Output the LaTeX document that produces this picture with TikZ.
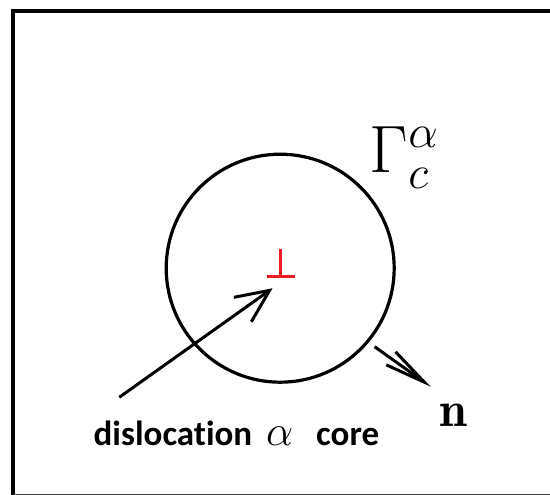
\RequirePackage{fix-cm}
\documentclass[tikz,border=0pt]{standalone}
\usepackage{fontspec}
\newfontfamily\lblfont[Ligatures={NoCommon,NoDiscretionary}]{Carlito}
\usetikzlibrary{arrows.meta}
\definecolor{dislred}{RGB}{237,28,36}
\begin{document}
\begin{tikzpicture}[x=1pt, y=-1pt,
  heavy/.style={line width=3pt},
  textlabel/.style={anchor=base west, inner sep=0pt}]
\useasboundingbox (0,0) rectangle (550,495);
\draw[line width=3.5pt] (551,10.8) -- (12.8,10.8) -- (12.8,495);
\draw[line width=1.2pt, black!75] (12.8,494.4) -- (551,494.4);

\node[draw, circle, line width=3.2pt, minimum size=228pt, inner sep=0pt] (loop) at (280.2,268.2) {};
\coordinate (core) at (280.7,276);
\draw[dislred, heavy] (core) ++(-14,0) -- ++(28,0) (core) -- ++(0,-27);

\node[textlabel, font=\fontsize{67}{67}\selectfont] (gammaLabel) at (369.5,172.3) {$\Gamma_c^\alpha$};

\coordinate (coreTail) at (119.3,397.3);
\coordinate (coreTip) at (272.5,288.3);
\draw[heavy, -{Straight Barb[length=33pt,width=30pt]}] (coreTail) -- (coreTip);

\coordinate (normalTail) at (374.6,346.7);
\coordinate (normalTip) at (430.7,386.7);
\draw[heavy, -{Straight Barb[length=41pt,width=16pt]}] (normalTail) -- (normalTip);
\node[textlabel, font=\fontsize{50}{50}\selectfont] (normalLabel) at (439,426.7) {$\mathbf{n}$};

\node[textlabel, font=\lblfont\bfseries\fontsize{35}{35}\selectfont] (coreLabel) at (93.5,445.7)
  {dislocation\hspace{14pt}{\fontsize{43}{43}\selectfont$\alpha$}\hspace{23pt}core};
\end{tikzpicture}
\end{document}
